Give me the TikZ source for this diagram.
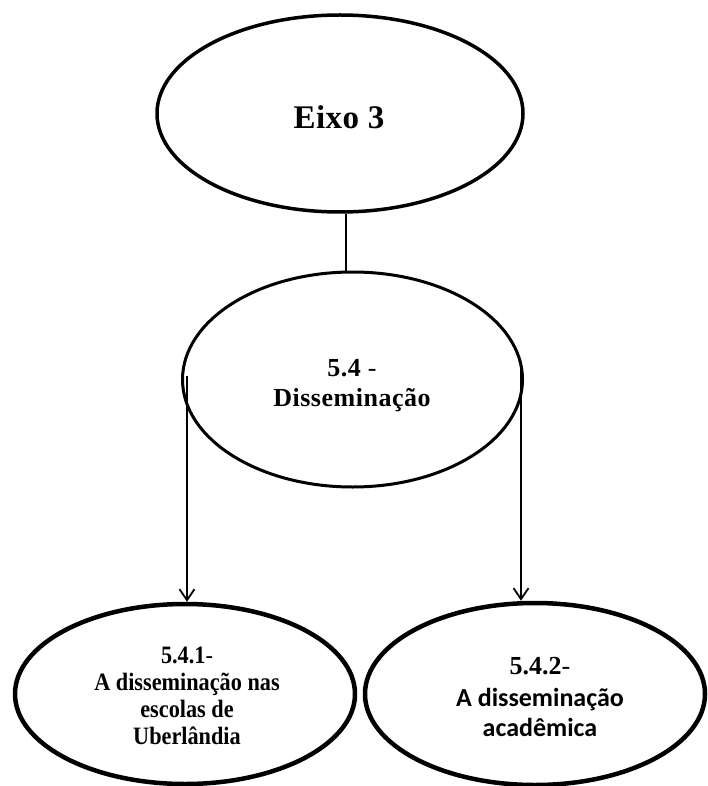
\documentclass[tikz,border=0pt]{standalone}
\usepackage{fontspec}
\setmainfont{Liberation Serif}
\newfontfamily\carl{Carlito}
\newfontfamily\cond[FakeStretch=0.89]{Liberation Serif}
\usetikzlibrary{shapes.geometric,arrows.meta}
\begin{document}
\begin{tikzpicture}[x=1pt,y=-1pt,
  oval/.style={draw=black,ellipse,inner sep=0pt},
  txt/.style={inner sep=0pt,align=center,anchor=north,text=black},
  conn/.style={draw=black,line width=1.8pt},
  arr/.style={conn,-{Straight Barb[length=11pt,width=15pt,line width=1.8pt]}}]
\useasboundingbox (0,0) rectangle (707,786);
\fill[white] (0,0) rectangle (707,786);
\node[oval,line width=3.5pt,minimum width=366pt,minimum height=197pt] (top) at (340,113.5) {};
\node[oval,line width=3pt,minimum width=340pt,minimum height=215pt] (mid) at (352.5,379.5) {};
\node[oval,line width=4.5pt,minimum width=340pt,minimum height=180pt] (bl) at (185,694) {};
\node[oval,line width=4.5pt,minimum width=340pt,minimum height=182pt] (br) at (535,694) {};
\node[txt,font=\bfseries\fontsize{33}{36}\selectfont\addfontfeatures{LetterSpace=1.5}] (ttop) at (339,105) {Eixo 3};
\node[txt,font=\bfseries\fontsize{26}{30}\selectfont\addfontfeatures{LetterSpace=2}] (tmid) at (352,359)
  {5.4 {\mdseries-}\\Dissemina\c{c}\~{a}o};
\node[txt,font=\cond\bfseries\fontsize{25}{27}\selectfont] (tbl) at (187,647)
  {5.4.1{\mdseries-}\\A dissemina\c{c}\~{a}o nas\\escolas de\\Uberl\^{a}ndia};
\node[txt,font=\bfseries\fontsize{26}{30}\selectfont] (tbr) at (540,657.5)
  {5.4.2{\mdseries-}\\[2pt]{\carl A dissemina\c{c}\~{a}o}\\{\carl acad\^{e}mica}};
\coordinate (c1) at (346,0);
\coordinate (c2) at (187,0);
\coordinate (c3) at (521,0);
\draw[conn] (top.south -| c1) -- (mid.north -| c1);
\draw[arr] ([yshift=4pt]mid.west -| c2) -- (bl.north -| c2);
\draw[arr] ([yshift=16pt]mid.east -| c3) -- (br.north -| c3);
\end{tikzpicture}
\end{document}
